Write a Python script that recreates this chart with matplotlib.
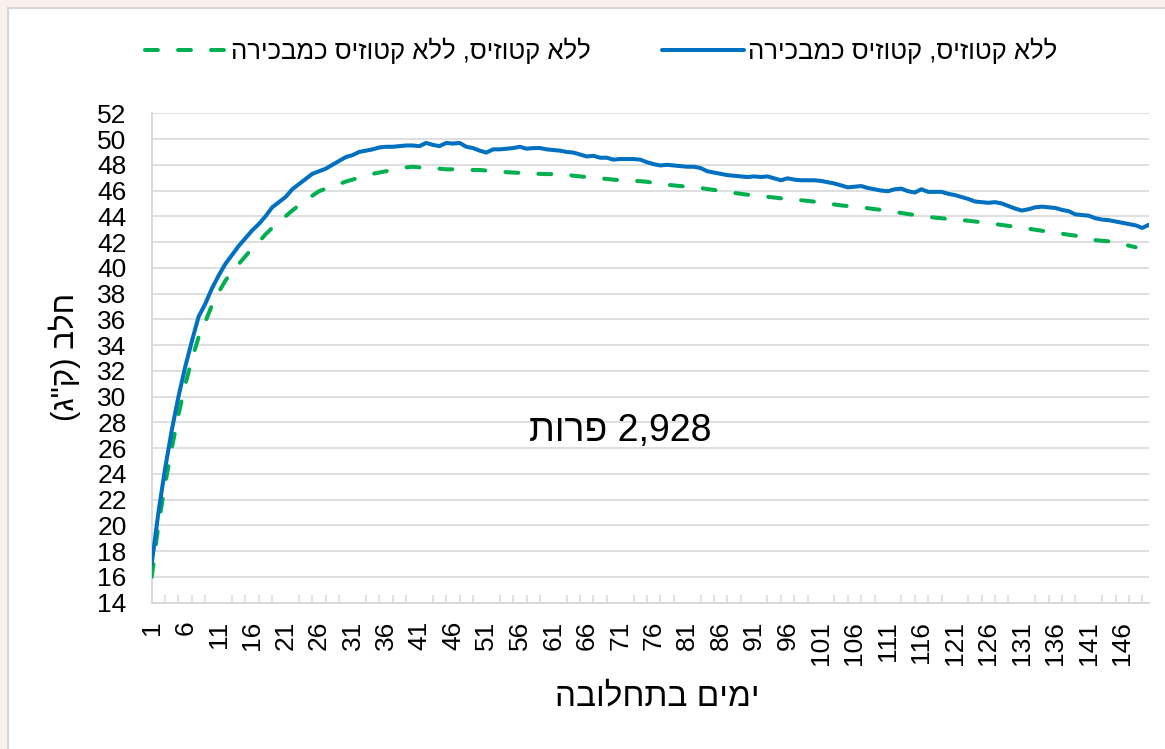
import matplotlib
matplotlib.use("Agg")
import matplotlib.pyplot as plt
from matplotlib.lines import Line2D
from matplotlib.patches import Rectangle

plt.rcParams['font.family'] = ['Liberation Sans', 'DejaVu Sans']

# ---- data ----
days_blue = list(range(1, 151))
blue_vals = [
    17.0, 21.0, 24.4, 27.4, 30.0, 32.3, 34.3, 36.2, 37.2, 38.4,
    39.4, 40.3, 41.0, 41.7, 42.3, 42.9, 43.4, 44.0, 44.7, 45.1,
    45.5, 46.1, 46.5, 46.9, 47.3, 47.5, 47.7, 48.0, 48.3, 48.6,
    48.75, 49.0, 49.1, 49.2, 49.35, 49.4, 49.4, 49.45, 49.5, 49.5,
    49.45, 49.7, 49.55, 49.45, 49.7, 49.65, 49.7, 49.4, 49.3, 49.1,
    48.95, 49.2, 49.2, 49.25, 49.3, 49.4, 49.25, 49.3, 49.3, 49.2,
    49.15, 49.1, 49.0, 48.95, 48.8, 48.65, 48.7, 48.55, 48.55, 48.4,
    48.45, 48.45, 48.45, 48.4, 48.2, 48.05, 47.95, 48.0, 47.95, 47.9,
    47.85, 47.85, 47.75, 47.5, 47.4, 47.3, 47.2, 47.15, 47.1, 47.05,
    47.1, 47.05, 47.1, 46.95, 46.8, 46.95, 46.85, 46.8, 46.8, 46.8,
    46.75, 46.65, 46.55, 46.4, 46.25, 46.3, 46.35, 46.2, 46.1, 46.0,
    45.95, 46.1, 46.15, 45.95, 45.85, 46.1, 45.9, 45.9, 45.9, 45.75,
    45.65, 45.5, 45.35, 45.15, 45.1, 45.05, 45.1, 45.0, 44.8, 44.6,
    44.45, 44.55, 44.7, 44.75, 44.7, 44.65, 44.5, 44.4, 44.15, 44.1,
    44.05, 43.85, 43.75, 43.7, 43.6, 43.5, 43.4, 43.3, 43.1, 43.35,
]
days_green = list(range(1, 149))
green_vals = [
    16.0, 20.0, 23.2, 26.0, 28.6, 30.9, 32.9, 34.6, 35.8, 37.1,
    38.1, 39.0, 39.7, 40.3, 40.9, 41.5, 42.0, 42.6, 43.1, 43.6,
    44.0, 44.45, 44.85, 45.25, 45.6, 45.95, 46.15, 46.35, 46.5, 46.7,
    46.85, 47.0, 47.15, 47.3, 47.4, 47.5, 47.6, 47.7, 47.8, 47.85,
    47.8, 47.75, 47.73, 47.7, 47.65, 47.65, 47.63, 47.62, 47.6, 47.6,
    47.55, 47.5, 47.47, 47.43, 47.4, 47.37, 47.34, 47.31, 47.3, 47.28,
    47.28, 47.27, 47.25, 47.15, 47.1, 47.05, 47.0, 46.95, 46.9, 46.85,
    46.8, 46.78, 46.76, 46.73, 46.68, 46.6, 46.52, 46.45, 46.4, 46.35,
    46.3, 46.25, 46.2, 46.12, 46.05, 45.97, 45.9, 45.82, 45.75, 45.68,
    45.63, 45.58, 45.52, 45.46, 45.4, 45.35, 45.31, 45.25, 45.2, 45.14,
    45.08, 45.0, 44.92, 44.85, 44.8, 44.75, 44.7, 44.63, 44.56, 44.5,
    44.43, 44.35, 44.26, 44.18, 44.1, 44.03, 43.97, 43.9, 43.85, 43.8,
    43.75, 43.7, 43.66, 43.6, 43.53, 43.47, 43.4, 43.33, 43.26, 43.19,
    43.12, 43.04, 42.96, 42.88, 42.78, 42.72, 42.65, 42.57, 42.5, 42.42,
    42.3, 42.15, 42.1, 42.06, 42.0, 41.85, 41.72, 41.6,
]
x_tick_labels = [str(d) for d in range(1, 150, 5)]
y_ticks = list(range(14, 53, 2))

# Hebrew strings in visual (left-to-right) order
label_blue = "הריכבמכ סיזוטק ,סיזוטק אלל"      # ללא קטוזיס, קטוזיס כמבכירה
label_green = "הריכבמכ סיזוטק אלל ,סיזוטק אלל"  # ללא קטוזיס, ללא קטוזיס כמבכירה
x_title = "הבולחתב םימי"                        # ימים בתחלובה
y_title = '(ג"ק) בלח'                          # חלב (ק"ג)
note = "תורפ 2,928"                             # 2,928 פרות

BLUE = "#0070C0"
GREEN = "#00B050"
GRID = "#D9D9D9"

W, H = 1165, 749
fig = plt.figure(figsize=(W / 100, H / 100), dpi=100)
fig.patch.set_facecolor("#FAF0EB")
fig.patches.append(Rectangle((7.5 / W, -0.01), 1.02, 1 - 7.5 / H + 0.01,
                             transform=fig.transFigure, facecolor="white",
                             edgecolor="#D6D6D6", linewidth=1.5, zorder=-10))

ax = fig.add_axes([151.7 / W, (H - 602.7) / H, 997.3 / W, 489.4 / H])
ax.set_zorder(1)
ax.set_facecolor("white")

ax.plot(days_green, green_vals, color=GREEN, lw=2.9, dashes=(3.2, 5.0),
        dash_capstyle="round", solid_capstyle="round", zorder=3)
ax.plot(days_blue, blue_vals, color=BLUE, lw=2.9, solid_capstyle="round",
        solid_joinstyle="round", zorder=4)

ax.set_xlim(1, 150)
ax.set_ylim(14, 52)
ax.set_yticks(y_ticks)
ax.set_yticklabels([str(v) for v in y_ticks], fontsize=19)
ax.tick_params(axis="y", length=0, pad=18)
ax.set_xticks(list(range(1, 150, 5)))
ax.set_xticklabels(x_tick_labels, rotation=90, fontsize=19)
ax.tick_params(axis="x", which="major", length=0, pad=13)
ax.set_xticks(list(range(1, 151, 2)), minor=True)
ax.tick_params(axis="x", which="minor", direction="in", length=5.5,
               width=1.1, color=GRID)
ax.yaxis.grid(True, color=GRID, lw=1.2)
ax.set_axisbelow(True)
for s in ("top", "right"):
    ax.spines[s].set_visible(False)
for s in ("left", "bottom"):
    ax.spines[s].set_color(GRID)
    ax.spines[s].set_linewidth(1.4)

ax.text(71, 27.35, note, fontsize=27, ha="center", va="center", zorder=5)

fig.text(657 / W, 1 - 697 / H, x_title, fontsize=24, ha="center", va="center")
fig.text(65 / W, 1 - 357 / H, y_title, fontsize=22.5, ha="center", va="center",
         rotation=90)

h_green = Line2D([], [], color=GREEN, lw=2.9, dashes=(3.2, 5.0),
                 dash_capstyle="round")
h_blue = Line2D([], [], color=BLUE, lw=2.9, solid_capstyle="round")
fig.legend(handles=[h_green, h_blue], labels=[label_green, label_blue],
           ncol=2, loc="center", bbox_to_anchor=(601 / W, 1 - 51 / H),
           frameon=False, fontsize=18.5, handlelength=3.2, handletextpad=0.12,
           columnspacing=2.8)

fig.savefig("out.png", dpi=100)
